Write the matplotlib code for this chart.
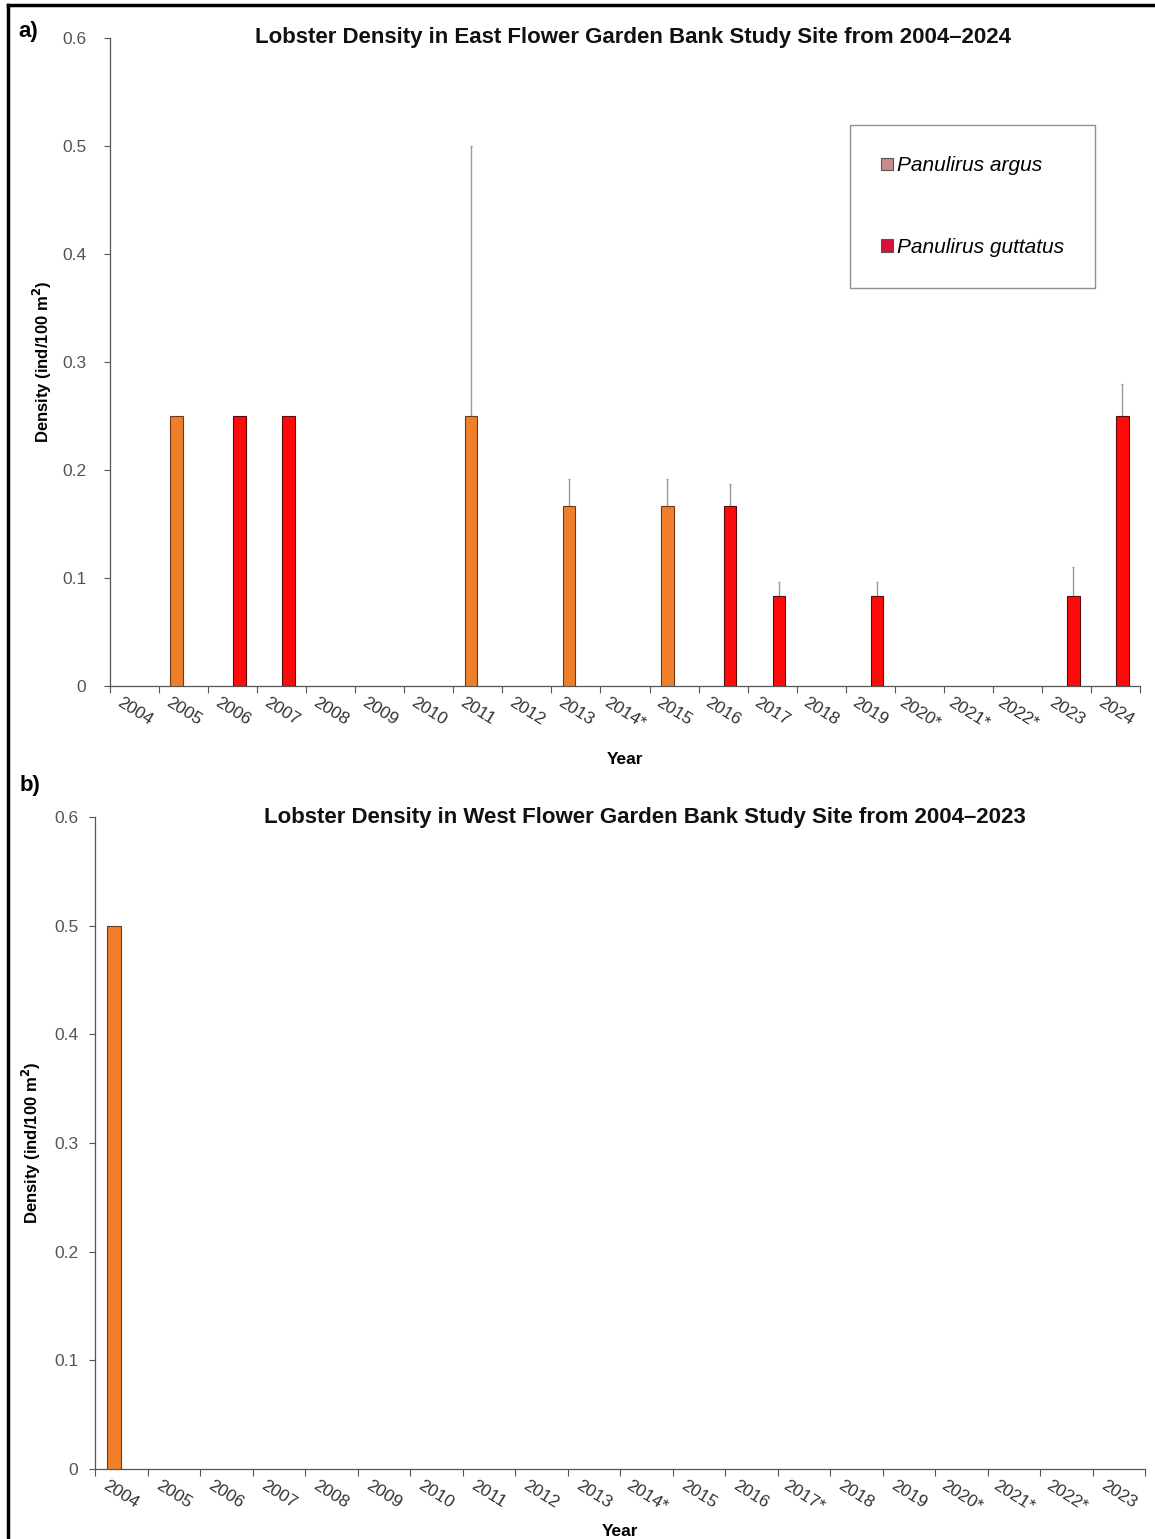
import numpy as np
import matplotlib
matplotlib.use("Agg")
import matplotlib.pyplot as plt
from matplotlib.patches import Patch
from matplotlib.lines import Line2D

plt.rcParams['font.family'] = ['Liberation Sans', 'DejaVu Sans']

# ---- data ----
east_years = ["2004", "2005", "2006", "2007", "2008", "2009", "2010", "2011", "2012",
              "2013", "2014*", "2015", "2016", "2017", "2018", "2019", "2020*", "2021*",
              "2022*", "2023", "2024"]
east_argus = [0, 0.25, 0, 0, 0, 0, 0, 0.25, 0, 0.1667, 0, 0.1667, 0, 0, 0, 0, 0, 0, 0, 0, 0]
east_argus_err = [0, 0, 0, 0, 0, 0, 0, 0.25, 0, 0.025, 0, 0.025, 0, 0, 0, 0, 0, 0, 0, 0, 0]
east_guttatus = [0, 0, 0.25, 0.25, 0, 0, 0, 0, 0, 0, 0, 0, 0.1667, 0.0833, 0, 0.0833, 0, 0, 0, 0.0833, 0.25]
east_guttatus_err = [0, 0, 0, 0, 0, 0, 0, 0, 0, 0, 0, 0, 0.02, 0.013, 0, 0.013, 0, 0, 0, 0.027, 0.03]

west_years = ["2004", "2005", "2006", "2007", "2008", "2009", "2010", "2011", "2012",
              "2013", "2014*", "2015", "2016", "2017*", "2018", "2019", "2020*", "2021*",
              "2022*", "2023"]
west_argus = [0.5] + [0] * 19
west_guttatus = [0] * 20

yticks = [0, 0.1, 0.2, 0.3, 0.4, 0.5, 0.6]
ytick_labels = ["0", "0.1", "0.2", "0.3", "0.4", "0.5", "0.6"]

ARGUS = "#f07f2a"
GUTT = "#ff0a0a"
ARGUS_LEG = "#c98a8a"
GUTT_LEG = "#d8103a"
ERR = "#9a9a9a"

W, H = 1155, 1539
fig = plt.figure(figsize=(W / 100, H / 100), dpi=100)
fig.patch.set_facecolor("white")


def make_panel(rect, years, argus, guttatus, argus_err, gutt_err, title, title_x,
               bar_w, off, ytick_pad, ylabel_pad):
    ax = fig.add_axes(rect)
    n = len(years)
    x = np.arange(n)
    a = np.array(argus, dtype=float)
    g = np.array(guttatus, dtype=float)
    ma = a > 0
    mg = g > 0
    ax.bar(x[ma] - off, a[ma], width=bar_w, color=ARGUS, edgecolor="#6a3a20", linewidth=0.8, zorder=3)
    ax.bar(x[mg] + off, g[mg], width=bar_w, color=GUTT, edgecolor="#5a0a0a", linewidth=0.8, zorder=3)
    if argus_err is not None:
        ea = np.array(argus_err, dtype=float)
        me = ea > 0
        ax.errorbar(x[me] - off, a[me], yerr=[np.zeros(me.sum()), ea[me]], fmt="none",
                    ecolor=ERR, elinewidth=1.0, capsize=1.0, zorder=2)
    if gutt_err is not None:
        eg = np.array(gutt_err, dtype=float)
        me = eg > 0
        ax.errorbar(x[me] + off, g[me], yerr=[np.zeros(me.sum()), eg[me]], fmt="none",
                    ecolor=ERR, elinewidth=1.0, capsize=1.0, zorder=2)

    ax.set_xlim(-0.5, n - 0.5)
    ax.set_ylim(0, 0.6)
    ax.set_yticks(yticks)
    ax.set_yticklabels(ytick_labels, fontsize=12.5, color="#555555")
    ax.tick_params(axis="y", length=4, width=0.8, color="#555555", pad=ytick_pad)

    # tick marks on category boundaries, labels at category centres
    ax.set_xticks(np.arange(n + 1) - 0.5)
    ax.set_xticklabels([])
    ax.tick_params(axis="x", which="major", length=5, width=0.8, color="#555555")
    ax.set_xticks(x, minor=True)
    ax.set_xticklabels(years, minor=True, rotation=-32, ha="center", va="top",
                       fontsize=12.5, color="#333333")
    ax.tick_params(axis="x", which="minor", length=0, pad=6)

    for s in ("top", "right"):
        ax.spines[s].set_visible(False)
    for s in ("left", "bottom"):
        ax.spines[s].set_color("#555555")
        ax.spines[s].set_linewidth(0.9)

    ax.set_ylabel("Density (ind/100 m$^\\mathbf{2}$)", fontsize=12, fontweight="bold",
                  labelpad=ylabel_pad)
    ax.set_xlabel("Year", fontsize=12.5, fontweight="bold", labelpad=2)
    ax.text(title_x, 1.0, title, transform=ax.transAxes, ha="center", va="center",
            fontsize=16, fontweight="bold", color="#111111")
    return ax


ax1 = make_panel([110 / W, 1 - 686 / H, 1030 / W, (686 - 38) / H], east_years,
                 east_argus, east_guttatus, east_argus_err, east_guttatus_err,
                 "Lobster Density in East Flower Garden Bank Study Site from 2004\u20132024",
                 0.508, 0.26, 0.14, 13, 5.5)
ax1.xaxis.set_label_coords(0.5, -0.102)

ax2 = make_panel([95 / W, 1 - 1469 / H, 1050 / W, (1469 - 817) / H], west_years,
                 west_argus, west_guttatus, None, None,
                 "Lobster Density in West Flower Garden Bank Study Site from 2004\u20132023",
                 0.524, 0.27, 0.14, 8, 8)
ax2.xaxis.set_label_coords(0.5, -0.085)

handles = [Patch(facecolor=ARGUS_LEG, edgecolor="#555555", linewidth=0.8),
           Patch(facecolor=GUTT_LEG, edgecolor="#555555", linewidth=0.8)]
leg = ax1.legend(handles, ["Panulirus argus", "Panulirus guttatus"],
                 loc="upper left", bbox_to_anchor=((850 - 110) / 1030, 1 - (125 - 38) / 648),
                 prop={"style": "italic", "size": 15}, frameon=True, fancybox=False,
                 edgecolor="#777777", handlelength=0.55, handleheight=0.55, handletextpad=0.2,
                 labelspacing=3.0, borderpad=1.5, borderaxespad=0)
leg.get_frame().set_linewidth(1.0)

fig.text(18 / W, 1 - 32 / H, "a)", fontsize=16, fontweight="bold", va="center", ha="left")
fig.text(20 / W, 1 - 785 / H, "b)", fontsize=16, fontweight="bold", va="center", ha="left")

# outer frame
fig.add_artist(Line2D([8 / W, 1], [1 - 5 / H, 1 - 5 / H], color="black", lw=2.5, transform=fig.transFigure))
fig.add_artist(Line2D([8 / W, 8 / W], [0, 1 - 5 / H], color="black", lw=2.5, transform=fig.transFigure))

fig.savefig("out.png", dpi=100, facecolor="white")
